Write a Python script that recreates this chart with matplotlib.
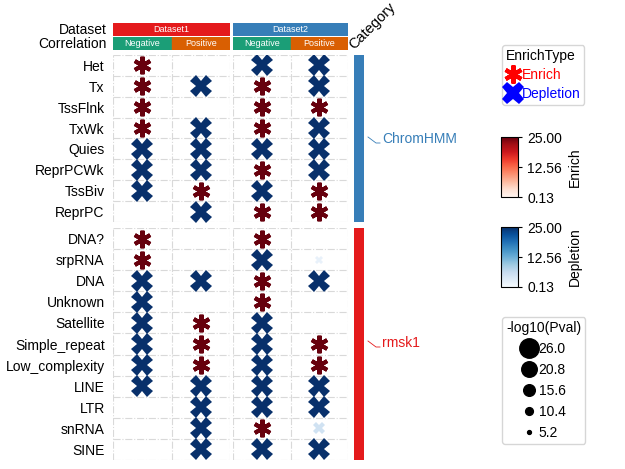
import numpy as np
import matplotlib
matplotlib.use("Agg")
import matplotlib.pyplot as plt
from matplotlib.lines import Line2D
from matplotlib.colors import Normalize
import matplotlib.cm as cm

plt.rcParams['font.family'] = ['Liberation Sans', 'DejaVu Sans']

# ---- data ----
datasets = ["Dataset1", "Dataset2"]
correlations = ["Negative", "Positive"]
chrom_rows = ["Het", "Tx", "TssFlnk", "TxWk", "Quies", "ReprPCWk", "TssBiv", "ReprPC"]
rmsk_rows = ["DNA?", "srpRNA", "DNA", "Unknown", "Satellite", "Simple_repeat",
             "Low_complexity", "LINE", "LTR", "snRNA", "SINE"]
categories = ["ChromHMM", "rmsk1"]

# E = Enrich, D = Depletion, '' = nothing; columns: D1-Neg, D1-Pos, D2-Neg, D2-Pos
chrom_type = [["E", "", "D", "D"],
              ["E", "D", "E", "D"],
              ["E", "", "E", "E"],
              ["E", "D", "E", "D"],
              ["D", "D", "D", "D"],
              ["D", "D", "E", "D"],
              ["D", "E", "D", "E"],
              ["", "D", "E", "E"]]
rmsk_type = [["E", "", "E", ""],
             ["E", "", "D", "D"],
             ["D", "D", "E", "D"],
             ["D", "", "E", ""],
             ["D", "E", "D", ""],
             ["D", "E", "D", "E"],
             ["D", "E", "D", "E"],
             ["D", "D", "D", "D"],
             ["", "D", "D", "D"],
             ["", "D", "E", "D"],
             ["", "D", "D", "D"]]
# colour value (clipped at 25) and -log10(Pval)
chrom_val = [[25] * 4 for _ in chrom_rows]
chrom_pval = [[26] * 4 for _ in chrom_rows]
rmsk_val = [[25, 25, 25, 25],
            [25, 25, 25, 2.0],
            [25, 25, 25, 25],
            [25, 25, 25, 25],
            [25, 25, 25, 25],
            [25, 25, 25, 25],
            [25, 25, 25, 25],
            [25, 25, 25, 25],
            [25, 25, 25, 25],
            [25, 25, 25, 5.0],
            [25, 25, 25, 25]]
rmsk_pval = [[26, 26, 26, 26],
             [26, 26, 26, 10],
             [26, 26, 26, 26],
             [26, 26, 26, 26],
             [26, 26, 26, 26],
             [26, 26, 26, 26],
             [26, 26, 26, 26],
             [26, 26, 26, 26],
             [26, 26, 26, 26],
             [26, 26, 26, 14],
             [26, 26, 26, 26]]

size_ticks = [26.0, 20.8, 15.6, 10.4, 5.2]
cbar_ticks = [0.13, 12.56, 25.00]

W, H = 625, 469
fig = plt.figure(figsize=(W / 100, H / 100), dpi=100)


def ax_px(x0, y0, x1, y1):
    return fig.add_axes([x0 / W, 1 - y1 / H, (x1 - x0) / W, (y1 - y0) / H])


norm = Normalize(0.13, 25)
reds = matplotlib.colormaps['Reds']
blues = matplotlib.colormaps['Blues']

col_spans = [(113, 230), (233, 348)]
row_spans = [(55, 222), (228, 460)]
blocks = [(chrom_rows, chrom_type, chrom_val, chrom_pval),
          (rmsk_rows, rmsk_type, rmsk_val, rmsk_pval)]

for bi, (rows, types, vals, pvals) in enumerate(blocks):
    y0, y1 = row_spans[bi]
    n = len(rows)
    for ci, (x0, x1) in enumerate(col_spans):
        ax = ax_px(x0, y0, x1, y1)
        ax.set_xlim(0, 2)
        ax.set_ylim(n, 0)
        for s in ax.spines.values():
            s.set_visible(False)
        ax.set_xticks([])
        ax.set_yticks([])
        for k in range(n + 1):
            ax.axhline(k, color='#d9d9d9', lw=0.8, ls='-.', zorder=0)
        for k in range(3):
            ax.axvline(k, color='#d9d9d9', lw=0.8, ls='-.', zorder=0)
        for r in range(n):
            for j in range(2):
                c = ci * 2 + j
                t = types[r][c]
                if not t:
                    continue
                v = vals[r][c]
                p = pvals[r][c]
                ms = 15.5 * p / 26
                if t == "E":
                    ax.plot(j + 0.5, r + 0.5, marker=(6, 2, 0), ms=ms * 0.82,
                            mew=2.9 * p / 26, color=reds(norm(v)), ls='')
                else:
                    ax.plot(j + 0.5, r + 0.5, marker='X', ms=ms, mew=0,
                            color=blues(norm(v)), ls='')
        if ci == 0:
            ax.set_yticks(np.arange(n) + 0.5)
            ax.set_yticklabels(rows, fontsize=10)
            ax.tick_params(axis='y', length=0, pad=6)

# ---- column annotations ----
ds_colors = ["#e41a1c", "#377eb8"]
corr_colors = ["#1b9e77", "#d95f02"]
for ci, (x0, x1) in enumerate(col_spans):
    a = ax_px(x0, 23, x1, 36)
    a.axis('off')
    a.add_patch(plt.Rectangle((0, 0), 1, 1, color=ds_colors[ci], transform=a.transAxes))
    a.text(0.5, 0.5, datasets[ci], color='white', fontsize=6.5, ha='center', va='center',
           transform=a.transAxes)
    a2 = ax_px(x0, 37, x1, 50)
    a2.axis('off')
    for j in range(2):
        a2.add_patch(plt.Rectangle((j * 0.5, 0), 0.5, 1, color=corr_colors[j],
                                   transform=a2.transAxes))
        a2.text(j * 0.5 + 0.25, 0.5, correlations[j], color='white', fontsize=6.5,
                ha='center', va='center', transform=a2.transAxes)

fig.text(107 / W, 1 - 30 / H, "Dataset", fontsize=10, ha='right', va='center')
fig.text(107 / W, 1 - 44 / H, "Correlation", fontsize=10, ha='right', va='center')

# ---- row category bar ----
cat_colors = ["#377eb8", "#e41a1c"]
label_y = [139, 343]
for bi, (y0, y1) in enumerate(row_spans):
    a = ax_px(354, y0, 364, y1)
    a.axis('off')
    a.add_patch(plt.Rectangle((0, 0), 1, 1, color=cat_colors[bi], transform=a.transAxes))
    ly = label_y[bi]
    fig.add_artist(Line2D([368 / W, 376 / W, 380 / W],
                          [1 - (ly - 2) / H, 1 - (ly + 4) / H, 1 - (ly + 4) / H],
                          color=cat_colors[bi], lw=0.6))
    fig.text(382 / W, 1 - ly / H, categories[bi], color=cat_colors[bi], fontsize=10,
             ha='left', va='center')
fig.text(356 / W, 1 - 52 / H, "Category", fontsize=10.5, rotation=45,
         ha='left', va='bottom', rotation_mode='anchor')

# ---- legends ----
h_en = Line2D([], [], marker=(6, 2, 0), color='red', ms=13, mew=3, ls='')
h_de = Line2D([], [], marker='X', color='blue', ms=16, mew=0, ls='')
leg = fig.legend([h_en, h_de], ["Enrich", "Depletion"], title="EnrichType",
                 loc='upper left', bbox_to_anchor=(502 / W, 1 - 45 / H),
                 fontsize=10, title_fontsize=10, handlelength=1.0,
                 handletextpad=0.1, borderpad=0.3, labelspacing=0.35,
                 borderaxespad=0, frameon=True)
for txt, col in zip(leg.get_texts(), ['red', 'blue']):
    txt.set_color(col)
leg._legend_box.align = "left"

for cmap, (y0, y1), lab in [(reds, (137, 197), "Enrich"), (blues, (227, 287), "Depletion")]:
    cax = ax_px(501, y0, 518, y1)
    cb = fig.colorbar(cm.ScalarMappable(norm=norm, cmap=cmap), cax=cax)
    cb.set_ticks(cbar_ticks)
    cb.set_ticklabels(["%.2f" % t for t in cbar_ticks])
    cb.ax.tick_params(labelsize=10, length=3)
    cb.set_label(lab, fontsize=10)
    cb.outline.set_linewidth(0.8)

size_handles = [Line2D([], [], marker='o', color='black', ls='', ms=s * 14 / 26)
                for s in size_ticks]
fig.legend(size_handles, ["%.1f" % s for s in size_ticks], title="-log10(Pval)",
           loc='upper left', bbox_to_anchor=(502 / W, 1 - 317 / H),
           fontsize=10, title_fontsize=10, handlelength=1.0, handletextpad=0.2,
           borderpad=0.3, labelspacing=0.5, borderaxespad=0, frameon=True)

fig.savefig("out.png", dpi=100)
